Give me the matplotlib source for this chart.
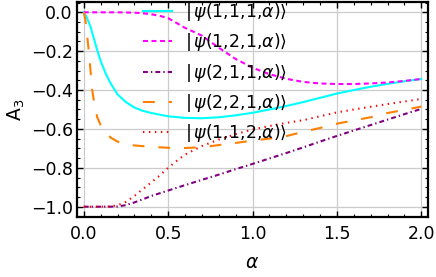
import matplotlib
matplotlib.use("Agg")
import matplotlib.pyplot as plt
from matplotlib.ticker import MultipleLocator, FuncFormatter

plt.rcParams['font.family'] = ['DejaVu Sans']
plt.rcParams['mathtext.fontset'] = 'dejavusans'
plt.rcParams['lines.scale_dashes'] = False

# ---- data ----
alpha_111 = [0, 0.02, 0.04, 0.06, 0.08, 0.1, 0.13, 0.16, 0.2, 0.25, 0.3, 0.35, 0.4, 0.5,
             0.6, 0.7, 0.8, 0.9, 1.0, 1.1, 1.2, 1.3, 1.4, 1.5, 1.6, 1.7, 1.8, 1.9, 2.0]
psi_111 = [0, -0.03, -0.075, -0.135, -0.195, -0.25, -0.315, -0.367, -0.422, -0.462, -0.49,
           -0.507, -0.518, -0.535, -0.543, -0.545, -0.54, -0.53, -0.517, -0.5, -0.482,
           -0.462, -0.44, -0.418, -0.4, -0.383, -0.368, -0.355, -0.343]

alpha_121 = [0, 0.1, 0.2, 0.3, 0.35, 0.4, 0.45, 0.5, 0.55, 0.6, 0.7, 0.8, 0.9, 1.0, 1.1,
             1.2, 1.3, 1.4, 1.5, 1.6, 1.7, 1.8, 1.9, 2.0]
psi_121 = [0, 0, 0, -0.002, -0.005, -0.01, -0.018, -0.03, -0.055, -0.08, -0.12, -0.182,
           -0.24, -0.285, -0.318, -0.342, -0.358, -0.366, -0.369, -0.369, -0.366,
           -0.361, -0.353, -0.343]

alpha_211 = [0, 0.1, 0.15, 0.2, 0.25, 0.3, 0.35, 0.4, 0.5, 0.6, 0.7, 0.8, 0.9, 1.0, 1.1,
             1.2, 1.3, 1.4, 1.5, 1.6, 1.7, 1.8, 1.9, 2.0]
psi_211 = [-1, -1, -1, -0.999, -0.992, -0.978, -0.962, -0.945, -0.917, -0.889, -0.862,
           -0.835, -0.807, -0.78, -0.752, -0.724, -0.695, -0.665, -0.636, -0.608, -0.58,
           -0.552, -0.524, -0.497]

alpha_221 = [0, 0.01, 0.02, 0.03, 0.04, 0.05, 0.065, 0.08, 0.1, 0.13, 0.16, 0.2, 0.25,
             0.3, 0.4, 0.5, 0.6, 0.7, 0.8, 0.9, 1.0, 1.1, 1.2, 1.3, 1.4, 1.5, 1.6, 1.7,
             1.8, 1.9, 2.0]
psi_221 = [0, -0.04, -0.12, -0.2, -0.3, -0.4, -0.48, -0.54, -0.58, -0.62, -0.645,
           -0.665, -0.677, -0.685, -0.692, -0.697, -0.698, -0.694, -0.683, -0.672,
           -0.66, -0.65, -0.637, -0.615, -0.595, -0.573, -0.556, -0.54, -0.518, -0.502,
           -0.485]

alpha_112 = [0, 0.1, 0.15, 0.2, 0.25, 0.3, 0.35, 0.4, 0.45, 0.5, 0.55, 0.6, 0.7, 0.8, 0.9,
             1.0, 1.1, 1.2, 1.3, 1.4, 1.5, 1.6, 1.7, 1.8, 1.9, 2.0]
psi_112 = [-1, -1, -0.999, -0.993, -0.975, -0.945, -0.91, -0.875, -0.84, -0.8, -0.765,
           -0.732, -0.688, -0.655, -0.627, -0.603, -0.585, -0.569, -0.555, -0.535,
           -0.515, -0.5, -0.486, -0.472, -0.459, -0.446]

labels = [r'$|\,\psi(1{,}1{,}1{,}\alpha)\rangle$', r'$|\,\psi(1{,}2{,}1{,}\alpha)\rangle$',
          r'$|\,\psi(2{,}1{,}1{,}\alpha)\rangle$', r'$|\,\psi(2{,}2{,}1{,}\alpha)\rangle$',
          r'$|\,\psi(1{,}1{,}2{,}\alpha)\rangle$']

fig = plt.figure(figsize=(4.36, 2.77), dpi=100)
ax = fig.add_axes([77/436, 1 - 217/277, 351/436, 215/277])

ax.plot(alpha_111, psi_111, color='#00FFFF', lw=1.5, ls='-', label=labels[0])
ax.plot(alpha_121, psi_121, color='#FF00FF', lw=1.5, ls=(0, (3.6, 2.5)), label=labels[1])
ax.plot(alpha_211, psi_211, color='#800080', lw=1.5, ls=(0, (3.5, 2.2, 1.0, 2.2)), label=labels[2])
ax.plot(alpha_221, psi_221, color='#FF8000', lw=1.5, ls=(0, (8.5, 10)), label=labels[3])
ax.plot(alpha_112, psi_112, color='#FF0000', lw=1.5, ls=(0, (1.0, 3.3)), label=labels[4])

ax.set_xlim(-0.04, 2.04)
ax.set_ylim(-1.053, 0.053)
ax.xaxis.set_major_locator(MultipleLocator(0.5))
ax.xaxis.set_minor_locator(MultipleLocator(0.1))
ax.yaxis.set_major_locator(MultipleLocator(0.2))
ax.yaxis.set_minor_locator(MultipleLocator(0.05))
ax.tick_params(which='both', direction='in', top=True, right=True, labelsize=12.5)
ax.tick_params(which='major', length=4, width=1)
ax.tick_params(which='minor', length=2.2, width=0.8)
ax.tick_params(axis='x', pad=6)
ax.tick_params(axis='y', pad=3)
ax.xaxis.set_major_formatter(FuncFormatter(lambda v, p: '%.1f' % v))
ax.yaxis.set_major_formatter(FuncFormatter(
    lambda v, p: ('\u2212' if v < -1e-9 else '') + '%.1f' % abs(v)))
ax.grid(True, which='major', color='#cccccc', lw=0.9)
for s in ax.spines.values():
    s.set_linewidth(1.6)

ax.set_xlabel(r'$\alpha$', fontsize=13.5, labelpad=7)
ax.set_ylabel(r'A$_3$', fontsize=13.5, labelpad=3)

leg = ax.legend(loc='upper left', bbox_to_anchor=(0.188, 1.005), frameon=False,
                fontsize=12.5, handlelength=1.65, handletextpad=0.75,
                labelspacing=0.48, borderpad=0, borderaxespad=0)

fig.savefig('out.png', dpi=100)
